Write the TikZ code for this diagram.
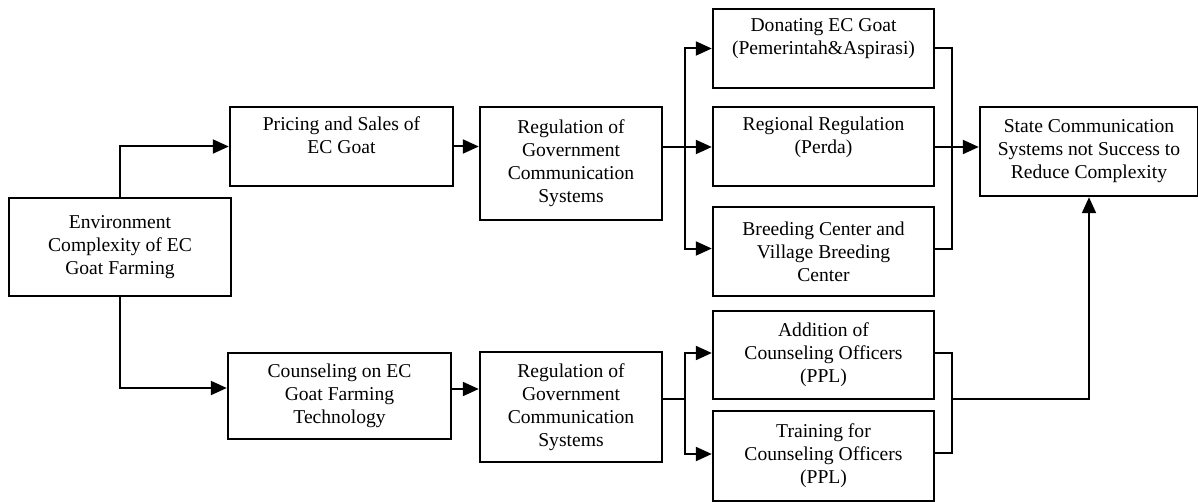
\documentclass[tikz,border=0pt]{standalone}
\usepackage{fontspec}
\setmainfont{Liberation Serif}
\usetikzlibrary{arrows.meta}
\begin{document}
\begin{tikzpicture}[x=0.5pt,y=-0.5pt,
  box/.style={draw,line width=1.2pt,align=center,inner sep=2pt,
    font=\fontsize{9.8}{11.5}\selectfont},
  arr/.style={line width=1pt,-{Triangle[length=8pt,width=7pt]}},
  link/.style={line width=1pt}]
\useasboundingbox (0,0) rectangle (1198,502);
% left column
\node [box,minimum width=111pt,minimum height=49pt,name=env] at (120,247){Environment\\Complexity of EC\\Goat Farming};
\node [box,minimum width=111.5pt,minimum height=39.5pt,name=price] at (341.5,146.5){Pricing and Sales of\\EC Goat\\ \mbox{}};
\node [box,minimum width=111.5pt,minimum height=43pt,name=couns] at (339.5,396){Counseling on EC\\Goat Farming\\Technology};
% regulation
\node [box,minimum width=91pt,minimum height=56.5pt,name=reg1] at (571,163.5){Regulation of\\Government\\Communication\\Systems};
\node [box,minimum width=91pt,minimum height=55pt,name=reg2] at (571,407){Regulation of\\Government\\Communication\\Systems};
% programs
\node [box,minimum width=110.5pt,minimum height=39.5pt,name=don] at (823.5,48.5){Donating EC Goat\\(Pemerintah\&Aspirasi)\\ \mbox{}};
\node [box,minimum width=110.5pt,minimum height=39.5pt,name=regional] at (823.5,146.5){Regional Regulation\\(Perda)\\ \mbox{}};
\node [box,minimum width=110.5pt,minimum height=44.5pt,name=breed] at (823.5,251.5){Breeding Center and\\Village Breeding\\Center};
\node [box,minimum width=110.5pt,minimum height=44pt,name=add] at (823.5,355){Addition of\\Counseling Officers\\(PPL)};
\node [box,minimum width=110.5pt,minimum height=45pt,name=train] at (823.5,456){Training for\\Counseling Officers\\(PPL)};
% result
\node [box,minimum width=109pt,minimum height=44.5pt,name=state] at (1089,151.5){State Communication\\Systems not Success to\\Reduce Complexity};
\coordinate (sp1) at (685,147);
\coordinate (sp2) at (685,399);
\coordinate (mg1) at (952,147);
\coordinate (mg2) at (952,399);
\draw[arr] (env.north) |- (price.west);
\draw[arr] (env.south) |- ([yshift=4pt]couns.west);
\draw[arr] (price.east) -- (price.east -| reg1.west);
\draw[arr] ([yshift=3.5pt]couns.east) -- ([yshift=3.5pt]couns.east -| reg2.west);
\draw[link] (reg1.east |- sp1) -- (sp1);
\draw[arr] (sp1) |- (don.west);
\draw[arr] (sp1) -- (sp1 -| regional.west);
\draw[arr] (sp1) |- ([yshift=1.5pt]breed.west);
\draw[link] (reg2.east |- sp2) -- (sp2);
\draw[arr] (sp2) |- ([yshift=1pt]add.west);
\draw[arr] (sp2) |- ([yshift=1pt]train.west);
\draw[link] (don.east) -| (mg1) |- ([yshift=1.5pt]breed.east);
\draw[link] ([yshift=1pt]add.east) -| (mg2) |- ([yshift=1.5pt]train.east);
\draw[arr] (regional.east |- mg1) -- (mg1 -| state.west);
\draw[arr] (mg2) -| (state.south);
\end{tikzpicture}
\end{document}
